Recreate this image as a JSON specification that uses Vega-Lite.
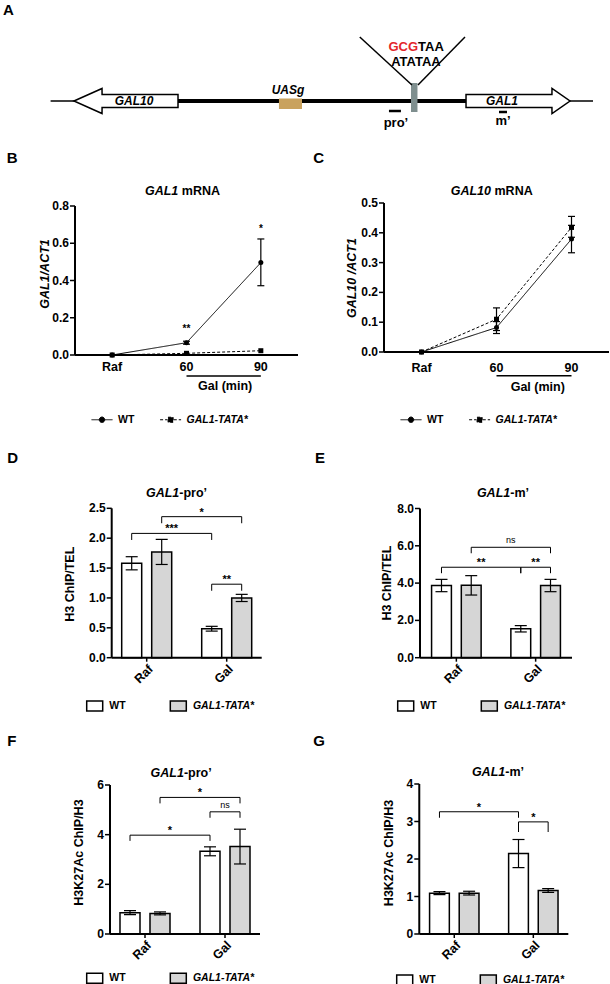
{
  "$schema": "https://vega.github.io/schema/vega-lite/v6.json",
  "width": 610, "height": 984,
  "autosize": {"type": "none"},
  "padding": 0,
  "config": {
    "font": "Liberation Sans",
    "view": {"stroke": null},
    "legend": {"labelFontWeight": "bold", "labelFontSize": 10.5, "labelColor": "black", "labelLimit": 300, "padding": 0},
    "text": {"color": "black", "fontWeight": "bold"}
  },
  "resolve": {
    "scale": {"x": "independent", "y": "independent", "xOffset": "independent", "fill": "independent", "strokeDash": "independent"},
    "axis": {"x": "independent", "y": "independent"},
    "legend": {"fill": "independent", "strokeDash": "independent"}
  },
  "layer": [
    {
      "layer": [
        {"data": {"values": [{"x": 0, "x2": 1000, "y": 0}]}, "mark": {"type": "rule", "color": "black", "strokeWidth": 1.3}, "encoding": {"x": {"field": "x", "type": "quantitative", "scale": {"domain": [0, 1000], "range": [50.6, 593], "nice": false, "zero": false}, "axis": null}, "x2": {"field": "x2"}, "y": {"field": "y", "type": "quantitative", "scale": {"domain": [-39, 101], "range": [140, 0], "nice": false, "zero": false}, "axis": null}}},
        {"data": {"values": [{"x": 234.9, "x2": 765.9, "y": 0}]}, "mark": {"type": "rule", "color": "black", "strokeWidth": 4}, "encoding": {"x": {"field": "x", "type": "quantitative", "axis": null}, "x2": {"field": "x2"}, "y": {"field": "y", "type": "quantitative", "axis": null}}},
        {"data": {"values": [
          {"gene": "GAL10", "x": 43.1, "y": 0, "y2": 0},
          {"gene": "GAL10", "x": 94.8, "y": 12.5, "y2": -12.5},
          {"gene": "GAL10", "x": 94.9, "y": 6.5, "y2": -6.5},
          {"gene": "GAL10", "x": 234.9, "y": 6.5, "y2": -6.5},
          {"gene": "GAL1", "x": 765.9, "y": 6.5, "y2": -6.5},
          {"gene": "GAL1", "x": 924.3, "y": 6.5, "y2": -6.5},
          {"gene": "GAL1", "x": 924.4, "y": 12.5, "y2": -12.5},
          {"gene": "GAL1", "x": 957.6, "y": 0, "y2": 0}
        ]}, "mark": {"type": "area", "fill": "white", "stroke": "black", "strokeWidth": 1.5, "opacity": 1}, "encoding": {"x": {"field": "x", "type": "quantitative", "axis": null}, "y": {"field": "y", "type": "quantitative", "axis": null}, "y2": {"field": "y2"}, "detail": {"field": "gene", "type": "nominal"}}},
        {"data": {"values": [{"x": 421, "x2": 463.5, "y": 2.5, "y2": -8}]}, "mark": {"type": "rect", "fill": "#c9a25e"}, "encoding": {"x": {"field": "x", "type": "quantitative", "axis": null}, "x2": {"field": "x2"}, "y": {"field": "y", "type": "quantitative", "axis": null}, "y2": {"field": "y2"}}},
        {"data": {"values": [{"x": 664.5, "x2": 676.4, "y": 18, "y2": -11}]}, "mark": {"type": "rect", "fill": "#7f8f8f"}, "encoding": {"x": {"field": "x", "type": "quantitative", "axis": null}, "x2": {"field": "x2"}, "y": {"field": "y", "type": "quantitative", "axis": null}, "y2": {"field": "y2"}}},
        {"data": {"values": [{"x": 570, "y": 64, "x2": 666.2, "y2": 16}, {"x": 764, "y": 64, "x2": 677.3, "y2": 16}]}, "mark": {"type": "rule", "color": "black", "strokeWidth": 1.5}, "encoding": {"x": {"field": "x", "type": "quantitative", "axis": null}, "x2": {"field": "x2"}, "y": {"field": "y", "type": "quantitative", "axis": null}, "y2": {"field": "y2"}}},
        {"data": {"values": [{"x": 623.8, "x2": 645.9, "y": -10}, {"x": 826.7, "x2": 841.4, "y": -11}]}, "mark": {"type": "rule", "color": "black", "strokeWidth": 2.5}, "encoding": {"x": {"field": "x", "type": "quantitative", "axis": null}, "x2": {"field": "x2"}, "y": {"field": "y", "type": "quantitative", "axis": null}}},
        {"data": {"values": [{"x": 153.8, "y": 0.5, "t": "GAL10"}, {"x": 832.2, "y": 0.5, "t": "GAL1"}, {"x": 437.7, "y": 11, "t": "UASg"}]}, "mark": {"type": "text", "fontSize": 12, "fontStyle": "italic", "baseline": "middle", "align": "center"}, "encoding": {"x": {"field": "x", "type": "quantitative", "axis": null}, "y": {"field": "y", "type": "quantitative", "axis": null}, "text": {"field": "t"}}},
        {"data": {"values": [{"x": 636.7, "y": -21.5, "t": "pro’"}, {"x": 834, "y": -20, "t": "m’"}, {"x": 673.6, "y": 39, "t": "ATATAA"}]}, "mark": {"type": "text", "fontSize": 13, "baseline": "middle", "align": "center"}, "encoding": {"x": {"field": "x", "type": "quantitative", "axis": null}, "y": {"field": "y", "type": "quantitative", "axis": null}, "text": {"field": "t"}}},
        {"data": {"values": [{"x": 677.4, "y": 54, "t": "GCG"}]}, "mark": {"type": "text", "fontSize": 13, "baseline": "middle", "align": "right", "color": "#e3262b"}, "encoding": {"x": {"field": "x", "type": "quantitative", "axis": null}, "y": {"field": "y", "type": "quantitative", "axis": null}, "text": {"field": "t"}}},
        {"data": {"values": [{"x": 677.4, "y": 54, "t": "TAA"}]}, "mark": {"type": "text", "fontSize": 13, "baseline": "middle", "align": "left"}, "encoding": {"x": {"field": "x", "type": "quantitative", "axis": null}, "y": {"field": "y", "type": "quantitative", "axis": null}, "text": {"field": "t"}}},
        {"data": {"values": [{"x": -87.7, "y": 86, "t": "A"}]}, "mark": {"type": "text", "fontSize": 15, "baseline": "alphabetic", "align": "left"}, "encoding": {"x": {"field": "x", "type": "quantitative", "axis": null}, "y": {"field": "y", "type": "quantitative", "axis": null}, "text": {"field": "t"}}}
      ]
    },
    {
      "data": {"values": [
        {"t": "Raf", "g": "WT", "m": 0},
        {"t": "60", "g": "WT", "m": 0.066, "lo": 0.058, "hi": 0.074},
        {"t": "90", "g": "WT", "m": 0.496, "lo": 0.372, "hi": 0.623},
        {"t": "Raf", "g": "GAL1-TATA*", "m": 0},
        {"t": "60", "g": "GAL1-TATA*", "m": 0.009},
        {"t": "90", "g": "GAL1-TATA*", "m": 0.023}
      ]},
      "layer": [
        {"mark": {"type": "line", "color": "black", "strokeWidth": 1}, "encoding": {
          "x": {"field": "t", "type": "ordinal", "scale": {"type": "band", "domain": ["Raf", "60", "90"], "range": [75, 298], "paddingInner": 0, "paddingOuter": 0}, "axis": null},
          "y": {"field": "m", "type": "quantitative", "scale": {"domain": [0, 0.8], "range": [355, 206], "nice": false, "zero": false}, "axis": null},
          "strokeDash": {"field": "g", "type": "nominal", "scale": {"domain": ["WT", "GAL1-TATA*"], "range": [[1, 0], [3, 2]]}, "legend": {"orient": "none", "legendX": 91, "legendY": 408.5, "direction": "horizontal", "title": null, "symbolType": {"expr": "datum.label === 'WT' ? 'M-1,0H1M-0.26,0A0.26,0.26,0,1,1,0.26,0A0.26,0.26,0,1,1,-0.26,0Z' : 'M-1,0H-0.3M0.3,0H1M-0.24,-0.24H0.24V0.24H-0.24Z'"}, "symbolSize": 441, "symbolStrokeWidth": 1, "symbolFillColor": "black", "symbolStrokeColor": "black", "labelFontStyle": {"expr": "datum.label === 'WT' ? 'normal' : 'italic'"}, "labelOffset": 5, "columnPadding": 22.6}},
          "order": {"value": null}}},
        {"mark": {"type": "rule", "color": "black", "strokeWidth": 1.2}, "encoding": {"x": {"field": "t", "type": "ordinal", "axis": null}, "y": {"field": "lo", "type": "quantitative", "axis": null}, "y2": {"field": "hi"}}},
        {"transform": [{"fold": ["lo", "hi"], "as": ["k", "v"]}], "mark": {"type": "tick", "color": "black", "size": 7, "thickness": 1.2, "opacity": 1}, "encoding": {"x": {"field": "t", "type": "ordinal", "axis": null}, "y": {"field": "v", "type": "quantitative", "axis": null}}},
        {"transform": [{"filter": "datum.g === 'WT'"}], "mark": {"type": "point", "shape": "circle", "filled": true, "color": "black", "size": 25, "opacity": 1}, "encoding": {"x": {"field": "t", "type": "ordinal", "axis": null}, "y": {"field": "m", "type": "quantitative", "axis": null}}},
        {"transform": [{"filter": "datum.g !== 'WT'"}], "mark": {"type": "point", "shape": "square", "filled": true, "color": "black", "size": 25, "opacity": 1}, "encoding": {"x": {"field": "t", "type": "ordinal", "axis": null}, "y": {"field": "m", "type": "quantitative", "axis": null}}},
        {"data": {"values": [{"t": "60", "y": 0.14, "s": "**"}, {"t": "90", "y": 0.677, "s": "*"}]}, "mark": {"type": "text", "fontSize": 10, "baseline": "middle"}, "encoding": {"x": {"field": "t", "type": "ordinal", "axis": null}, "y": {"field": "y", "type": "quantitative", "axis": null}, "text": {"field": "s"}}},
        {"data": {"values": [{"t": "60", "t2": "90"}]}, "mark": {"type": "rule", "color": "black", "strokeWidth": 1.5}, "encoding": {"x": {"field": "t", "type": "ordinal", "axis": null}, "x2": {"field": "t2"}, "y": {"datum": -0.113, "type": "quantitative", "axis": null}}},
        {"data": {"values": [{}]}, "mark": {"type": "text", "fontSize": 12.5, "fontStyle": "italic", "align": "right", "baseline": "alphabetic", "dx": -8.2, "dy": -11.5}, "encoding": {"x": {"datum": "60", "type": "ordinal", "axis": null}, "y": {"datum": 0.8, "type": "quantitative", "axis": null}, "text": {"value": "GAL1"}}},
        {"data": {"values": [{}]}, "mark": {"type": "text", "fontSize": 12.5, "align": "left", "baseline": "alphabetic", "dx": -4.7, "dy": -11.5}, "encoding": {"x": {"datum": "60", "type": "ordinal", "axis": null}, "y": {"datum": 0.8, "type": "quantitative", "axis": null}, "text": {"value": "mRNA"}}},
        {"data": {"values": [{}]}, "mark": {"type": "text", "fontSize": 15, "align": "left", "baseline": "alphabetic", "dx": -105.5, "dy": -42.7}, "encoding": {"x": {"datum": "Raf", "type": "ordinal", "axis": null}, "y": {"datum": 0.8, "type": "quantitative", "axis": null}, "text": {"value": "B"}}},
        {"data": {"values": [{"t": "Raf"}]}, "mark": {"type": "point", "shape": "M0,-1V1", "size": 22201, "filled": false, "color": "black", "strokeWidth": 2, "opacity": 1}, "encoding": {"x": {"field": "t", "type": "ordinal", "bandPosition": 0, "axis": null}, "y": {"datum": 0.4, "type": "quantitative", "axis": null}}},
        {"data": {"values": [{"t": "60"}]}, "mark": {"type": "point", "shape": "M-1,0H1", "size": 49729, "filled": false, "color": "black", "strokeWidth": 2, "opacity": 1}, "encoding": {"x": {"field": "t", "type": "ordinal", "axis": null}, "y": {"datum": 0, "type": "quantitative", "axis": null}}},
        {"data": {"values": [{"t": "Raf", "v": 0}, {"t": "Raf", "v": 0.2}, {"t": "Raf", "v": 0.4}, {"t": "Raf", "v": 0.6}, {"t": "Raf", "v": 0.8}]}, "layer": [
          {"mark": {"type": "point", "shape": "M-1,0H1", "size": 25, "filled": false, "color": "black", "strokeWidth": 1.5, "opacity": 1}, "encoding": {"x": {"field": "t", "type": "ordinal", "bandPosition": -0.0336, "axis": null}, "y": {"field": "v", "type": "quantitative", "axis": null}}},
          {"mark": {"type": "text", "fontSize": 12, "align": "right", "baseline": "middle"}, "encoding": {"x": {"field": "t", "type": "ordinal", "bandPosition": -0.0807, "axis": null}, "y": {"field": "v", "type": "quantitative", "axis": null}, "text": {"field": "v", "type": "quantitative", "format": ".1f"}}}
        ]},
        {"data": {"values": [{"t": "Raf"}]}, "mark": {"type": "text", "fontSize": 12.5, "fontStyle": "italic", "angle": 270, "align": "center", "baseline": "middle"}, "encoding": {"x": {"field": "t", "type": "ordinal", "bandPosition": -0.4036, "axis": null}, "y": {"datum": 0.435, "type": "quantitative", "axis": null}, "text": {"value": "GAL1/ACT1"}}},
        {"data": {"values": [{"t": "Raf"}, {"t": "60"}, {"t": "90"}]}, "mark": {"type": "text", "fontSize": 12.5, "baseline": "middle", "align": "center", "dy": 12}, "encoding": {"x": {"field": "t", "type": "ordinal", "axis": null}, "y": {"datum": 0, "type": "quantitative", "axis": null}, "text": {"field": "t"}}},
        {"data": {"values": [{"t": "90"}]}, "mark": {"type": "text", "fontSize": 12.5, "baseline": "middle", "align": "center", "dy": 31}, "encoding": {"x": {"field": "t", "type": "ordinal", "bandPosition": 0.02, "axis": null}, "y": {"datum": 0, "type": "quantitative", "axis": null}, "text": {"value": "Gal (min)"}}}
      ]
    },
    {
      "data": {"values": [
        {"t": "Raf", "g": "WT", "m": 0},
        {"t": "60", "g": "WT", "m": 0.082, "lo": 0.062, "hi": 0.102},
        {"t": "90", "g": "WT", "m": 0.379, "lo": 0.333, "hi": 0.425},
        {"t": "Raf", "g": "GAL1-TATA*", "m": 0},
        {"t": "60", "g": "GAL1-TATA*", "m": 0.11, "lo": 0.072, "hi": 0.148},
        {"t": "90", "g": "GAL1-TATA*", "m": 0.418, "lo": 0.385, "hi": 0.455}
      ]},
      "layer": [
        {"mark": {"type": "line", "color": "black", "strokeWidth": 1}, "encoding": {
          "x": {"field": "t", "type": "ordinal", "scale": {"type": "band", "domain": ["Raf", "60", "90"], "range": [384, 609], "paddingInner": 0, "paddingOuter": 0}, "axis": null},
          "y": {"field": "m", "type": "quantitative", "scale": {"domain": [0, 0.5], "range": [352, 203], "nice": false, "zero": false}, "axis": null},
          "strokeDash": {"field": "g", "type": "nominal", "scale": {"domain": ["WT", "GAL1-TATA*"], "range": [[1, 0], [3, 2]]}, "legend": {"orient": "none", "legendX": 400, "legendY": 408.5, "direction": "horizontal", "title": null, "symbolType": {"expr": "datum.label === 'WT' ? 'M-1,0H1M-0.26,0A0.26,0.26,0,1,1,0.26,0A0.26,0.26,0,1,1,-0.26,0Z' : 'M-1,0H-0.3M0.3,0H1M-0.24,-0.24H0.24V0.24H-0.24Z'"}, "symbolSize": 441, "symbolStrokeWidth": 1, "symbolFillColor": "black", "symbolStrokeColor": "black", "labelFontStyle": {"expr": "datum.label === 'WT' ? 'normal' : 'italic'"}, "labelOffset": 5, "columnPadding": 22.6}},
          "order": {"value": null}}},
        {"mark": {"type": "rule", "color": "black", "strokeWidth": 1.2}, "encoding": {"x": {"field": "t", "type": "ordinal", "axis": null}, "y": {"field": "lo", "type": "quantitative", "axis": null}, "y2": {"field": "hi"}}},
        {"transform": [{"fold": ["lo", "hi"], "as": ["k", "v"]}], "mark": {"type": "tick", "color": "black", "size": 7, "thickness": 1.2, "opacity": 1}, "encoding": {"x": {"field": "t", "type": "ordinal", "axis": null}, "y": {"field": "v", "type": "quantitative", "axis": null}}},
        {"transform": [{"filter": "datum.g === 'WT'"}], "mark": {"type": "point", "shape": "circle", "filled": true, "color": "black", "size": 25, "opacity": 1}, "encoding": {"x": {"field": "t", "type": "ordinal", "axis": null}, "y": {"field": "m", "type": "quantitative", "axis": null}}},
        {"transform": [{"filter": "datum.g !== 'WT'"}], "mark": {"type": "point", "shape": "square", "filled": true, "color": "black", "size": 25, "opacity": 1}, "encoding": {"x": {"field": "t", "type": "ordinal", "axis": null}, "y": {"field": "m", "type": "quantitative", "axis": null}}},
        {"data": {"values": [{"t": "60", "t2": "90"}]}, "mark": {"type": "rule", "color": "black", "strokeWidth": 1.5}, "encoding": {"x": {"field": "t", "type": "ordinal", "axis": null}, "x2": {"field": "t2"}, "y": {"datum": -0.08, "type": "quantitative", "axis": null}}},
        {"data": {"values": [{}]}, "mark": {"type": "text", "fontSize": 12.5, "fontStyle": "italic", "align": "right", "baseline": "alphabetic", "dx": -5.5, "dy": -8.5}, "encoding": {"x": {"datum": "60", "type": "ordinal", "axis": null}, "y": {"datum": 0.5, "type": "quantitative", "axis": null}, "text": {"value": "GAL10"}}},
        {"data": {"values": [{}]}, "mark": {"type": "text", "fontSize": 12.5, "align": "left", "baseline": "alphabetic", "dx": -2, "dy": -8.5}, "encoding": {"x": {"datum": "60", "type": "ordinal", "axis": null}, "y": {"datum": 0.5, "type": "quantitative", "axis": null}, "text": {"value": "mRNA"}}},
        {"data": {"values": [{}]}, "mark": {"type": "text", "fontSize": 15, "align": "left", "baseline": "alphabetic", "dx": -108.2, "dy": -40}, "encoding": {"x": {"datum": "Raf", "type": "ordinal", "axis": null}, "y": {"datum": 0.5, "type": "quantitative", "axis": null}, "text": {"value": "C"}}},
        {"data": {"values": [{"t": "Raf"}]}, "mark": {"type": "point", "shape": "M0,-1V1", "size": 22201, "filled": false, "color": "black", "strokeWidth": 2, "opacity": 1}, "encoding": {"x": {"field": "t", "type": "ordinal", "bandPosition": 0, "axis": null}, "y": {"datum": 0.25, "type": "quantitative", "axis": null}}},
        {"data": {"values": [{"t": "60"}]}, "mark": {"type": "point", "shape": "M-1,0H1", "size": 50625, "filled": false, "color": "black", "strokeWidth": 2, "opacity": 1}, "encoding": {"x": {"field": "t", "type": "ordinal", "axis": null}, "y": {"datum": 0, "type": "quantitative", "axis": null}}},
        {"data": {"values": [{"t": "Raf", "v": 0}, {"t": "Raf", "v": 0.1}, {"t": "Raf", "v": 0.2}, {"t": "Raf", "v": 0.3}, {"t": "Raf", "v": 0.4}, {"t": "Raf", "v": 0.5}]}, "layer": [
          {"mark": {"type": "point", "shape": "M-1,0H1", "size": 25, "filled": false, "color": "black", "strokeWidth": 1.5, "opacity": 1}, "encoding": {"x": {"field": "t", "type": "ordinal", "bandPosition": -0.0333, "axis": null}, "y": {"field": "v", "type": "quantitative", "axis": null}}},
          {"mark": {"type": "text", "fontSize": 12, "align": "right", "baseline": "middle"}, "encoding": {"x": {"field": "t", "type": "ordinal", "bandPosition": -0.08, "axis": null}, "y": {"field": "v", "type": "quantitative", "axis": null}, "text": {"field": "v", "type": "quantitative", "format": ".1f"}}}
        ]},
        {"data": {"values": [{"t": "Raf"}]}, "mark": {"type": "text", "fontSize": 12.5, "fontStyle": "italic", "angle": 270, "align": "center", "baseline": "middle"}, "encoding": {"x": {"field": "t", "type": "ordinal", "bandPosition": -0.431, "axis": null}, "y": {"datum": 0.248, "type": "quantitative", "axis": null}, "text": {"value": "GAL10 /ACT1"}}},
        {"data": {"values": [{"t": "Raf"}, {"t": "60"}, {"t": "90"}]}, "mark": {"type": "text", "fontSize": 12.5, "baseline": "middle", "align": "center", "dy": 16}, "encoding": {"x": {"field": "t", "type": "ordinal", "axis": null}, "y": {"datum": 0, "type": "quantitative", "axis": null}, "text": {"field": "t"}}},
        {"data": {"values": [{"t": "90"}]}, "mark": {"type": "text", "fontSize": 12.5, "baseline": "middle", "align": "center", "dy": 34.7}, "encoding": {"x": {"field": "t", "type": "ordinal", "bandPosition": 0.05, "axis": null}, "y": {"datum": 0, "type": "quantitative", "axis": null}, "text": {"value": "Gal (min)"}}}
      ]
    },
    {
      "data": {"values": [
        {"c": "Raf", "g": "WT", "m": 1.58, "lo": 1.47, "hi": 1.69},
        {"c": "Raf", "g": "GAL1-TATA*", "m": 1.77, "lo": 1.56, "hi": 1.98},
        {"c": "Gal", "g": "WT", "m": 0.485, "lo": 0.445, "hi": 0.525},
        {"c": "Gal", "g": "GAL1-TATA*", "m": 1.0, "lo": 0.94, "hi": 1.06}
      ]},
      "layer": [
        {"mark": {"type": "bar", "stroke": "black", "strokeWidth": 1.5}, "encoding": {
          "x": {"field": "c", "type": "nominal", "scale": {"domain": ["Raf", "Gal"], "range": [111.7, 261.7], "paddingInner": 0.375, "paddingOuter": 0.125}, "axis": null},
          "xOffset": {"field": "g", "type": "nominal", "scale": {"domain": ["WT", "GAL1-TATA*"], "paddingInner": 0.3333, "paddingOuter": 0}},
          "y": {"field": "m", "type": "quantitative", "scale": {"domain": [0, 2.5], "range": [657.7, 508.3], "nice": false, "zero": false}, "axis": null},
          "fill": {"field": "g", "type": "nominal", "scale": {"domain": ["WT", "GAL1-TATA*"], "range": ["white", "#d6d6d6"]}, "legend": {"orient": "none", "legendX": 85.7, "legendY": 697, "direction": "horizontal", "title": null, "symbolType": "M-1,-0.625H1V0.625H-1Z", "symbolSize": 256, "symbolStrokeColor": "black", "symbolStrokeWidth": 1.5, "labelFontStyle": {"expr": "datum.label === 'WT' ? 'normal' : 'italic'"}, "labelOffset": 5.6, "columnPadding": 41.6}}}},
        {"mark": {"type": "rule", "color": "black", "strokeWidth": 1.2}, "encoding": {"x": {"field": "c", "type": "nominal", "axis": null}, "xOffset": {"field": "g", "type": "nominal"}, "y": {"field": "lo", "type": "quantitative", "axis": null}, "y2": {"field": "hi"}}},
        {"transform": [{"fold": ["lo", "hi"], "as": ["k", "v"]}], "mark": {"type": "tick", "color": "black", "size": 12, "thickness": 1.2, "opacity": 1}, "encoding": {"x": {"field": "c", "type": "nominal", "axis": null}, "xOffset": {"field": "g", "type": "nominal"}, "y": {"field": "v", "type": "quantitative", "axis": null}}},
        {"data": {"values": [
          {"b": 1, "o": 1, "c": "Raf", "g": "WT", "y": 1.97}, {"b": 1, "o": 2, "c": "Raf", "g": "WT", "y": 2.08}, {"b": 1, "o": 3, "c": "Gal", "g": "WT", "y": 2.08}, {"b": 1, "o": 4, "c": "Gal", "g": "WT", "y": 1.97},
          {"b": 2, "o": 1, "c": "Raf", "g": "GAL1-TATA*", "y": 2.25}, {"b": 2, "o": 2, "c": "Raf", "g": "GAL1-TATA*", "y": 2.36}, {"b": 2, "o": 3, "c": "Gal", "g": "GAL1-TATA*", "y": 2.36}, {"b": 2, "o": 4, "c": "Gal", "g": "GAL1-TATA*", "y": 2.25},
          {"b": 3, "o": 1, "c": "Gal", "g": "WT", "y": 1.12}, {"b": 3, "o": 2, "c": "Gal", "g": "WT", "y": 1.23}, {"b": 3, "o": 3, "c": "Gal", "g": "GAL1-TATA*", "y": 1.23}, {"b": 3, "o": 4, "c": "Gal", "g": "GAL1-TATA*", "y": 1.12}
        ]}, "mark": {"type": "line", "color": "black", "strokeWidth": 1}, "encoding": {"x": {"field": "c", "type": "nominal", "axis": null}, "xOffset": {"field": "g", "type": "nominal"}, "y": {"field": "y", "type": "quantitative", "axis": null}, "order": {"field": "o", "type": "quantitative"}, "detail": {"field": "b", "type": "nominal"}}},
        {"data": {"values": [{"c": "Raf", "y": 2.08, "s": "***"}]}, "mark": {"type": "text", "fontSize": 11, "baseline": "alphabetic", "align": "center", "dy": -1}, "encoding": {"x": {"field": "c", "type": "nominal", "bandPosition": 1, "axis": null}, "y": {"field": "y", "type": "quantitative", "axis": null}, "text": {"field": "s"}}},
        {"data": {"values": [{"c": "Gal", "y": 2.36, "s": "*"}]}, "mark": {"type": "text", "fontSize": 11, "baseline": "alphabetic", "align": "center", "dy": -1}, "encoding": {"x": {"field": "c", "type": "nominal", "bandPosition": 0, "axis": null}, "y": {"field": "y", "type": "quantitative", "axis": null}, "text": {"field": "s"}}},
        {"data": {"values": [{"c": "Gal", "y": 1.23, "s": "**"}]}, "mark": {"type": "text", "fontSize": 11, "baseline": "alphabetic", "align": "center", "dy": -1}, "encoding": {"x": {"field": "c", "type": "nominal", "bandPosition": 0.5, "axis": null}, "y": {"field": "y", "type": "quantitative", "axis": null}, "text": {"field": "s"}}},
        {"data": {"values": [{}]}, "mark": {"type": "text", "fontSize": 12.5, "fontStyle": "italic", "align": "right", "baseline": "alphabetic", "dx": -47.4, "dy": -11}, "encoding": {"x": {"datum": "Gal", "type": "nominal", "axis": null}, "y": {"datum": 2.5, "type": "quantitative", "axis": null}, "text": {"value": "GAL1"}}},
        {"data": {"values": [{}]}, "mark": {"type": "text", "fontSize": 12.5, "align": "left", "baseline": "alphabetic", "dx": -47.4, "dy": -11}, "encoding": {"x": {"datum": "Gal", "type": "nominal", "axis": null}, "y": {"datum": 2.5, "type": "quantitative", "axis": null}, "text": {"value": "-pro’"}}},
        {"data": {"values": [{}]}, "mark": {"type": "text", "fontSize": 15, "align": "left", "baseline": "alphabetic", "dx": -139.4, "dy": -45}, "encoding": {"x": {"datum": "Raf", "type": "nominal", "axis": null}, "y": {"datum": 2.5, "type": "quantitative", "axis": null}, "text": {"value": "D"}}},
        {"data": {"values": [{"c": "Raf"}]}, "mark": {"type": "point", "shape": "M0,-1V1", "size": 22320, "filled": false, "color": "black", "strokeWidth": 2, "opacity": 1}, "encoding": {"x": {"field": "c", "type": "nominal", "bandPosition": -0.2, "axis": null}, "y": {"datum": 1.25, "type": "quantitative", "axis": null}}},
        {"data": {"values": [{"c": "Raf"}]}, "mark": {"type": "point", "shape": "M-1,0H1", "size": 22500, "filled": false, "color": "black", "strokeWidth": 2, "opacity": 1}, "encoding": {"x": {"field": "c", "type": "nominal", "bandPosition": 1.3, "axis": null}, "y": {"datum": 0, "type": "quantitative", "axis": null}}},
        {"data": {"values": [{"c": "Raf"}, {"c": "Gal"}]}, "layer": [
          {"mark": {"type": "rule", "color": "black", "strokeWidth": 1.5}, "encoding": {"x": {"field": "c", "type": "nominal", "axis": null}, "y": {"datum": 0, "type": "quantitative", "axis": null}, "y2": {"datum": -0.067}}},
          {"mark": {"type": "text", "fontSize": 12.5, "angle": 315, "align": "right", "baseline": "top"}, "encoding": {"x": {"field": "c", "type": "nominal", "axis": null}, "y": {"datum": -0.084, "type": "quantitative", "axis": null}, "text": {"field": "c"}}}
        ]},
        {"data": {"values": [{"c": "Raf", "v": 0}, {"c": "Raf", "v": 0.5}, {"c": "Raf", "v": 1}, {"c": "Raf", "v": 1.5}, {"c": "Raf", "v": 2}, {"c": "Raf", "v": 2.5}]}, "layer": [
          {"mark": {"type": "point", "shape": "M-1,0H1", "size": 25, "filled": false, "color": "black", "strokeWidth": 1.5, "opacity": 1}, "encoding": {"x": {"field": "c", "type": "nominal", "bandPosition": -0.25, "axis": null}, "y": {"field": "v", "type": "quantitative", "axis": null}}},
          {"mark": {"type": "text", "fontSize": 12, "align": "right", "baseline": "middle"}, "encoding": {"x": {"field": "c", "type": "nominal", "bandPosition": -0.32, "axis": null}, "y": {"field": "v", "type": "quantitative", "axis": null}, "text": {"field": "v", "type": "quantitative", "format": ".1f"}}}
        ]},
        {"data": {"values": [{"c": "Raf"}]}, "mark": {"type": "text", "fontSize": 12.5, "angle": 270, "align": "center", "baseline": "middle"}, "encoding": {"x": {"field": "c", "type": "nominal", "bandPosition": -1.034, "axis": null}, "y": {"datum": 1.23, "type": "quantitative", "axis": null}, "text": {"value": "H3 ChIP/TEL"}}}
      ]
    },
    {
      "data": {"values": [
        {"c": "Raf", "g": "WT", "m": 3.87, "lo": 3.54, "hi": 4.2},
        {"c": "Raf", "g": "GAL1-TATA*", "m": 3.88, "lo": 3.36, "hi": 4.4},
        {"c": "Gal", "g": "WT", "m": 1.55, "lo": 1.38, "hi": 1.72},
        {"c": "Gal", "g": "GAL1-TATA*", "m": 3.87, "lo": 3.54, "hi": 4.2}
      ]},
      "layer": [
        {"mark": {"type": "bar", "stroke": "black", "strokeWidth": 1.5}, "encoding": {
          "x": {"field": "c", "type": "nominal", "scale": {"domain": ["Raf", "Gal"], "range": [420, 572], "paddingInner": 0.375, "paddingOuter": 0.146}, "axis": null},
          "xOffset": {"field": "g", "type": "nominal", "scale": {"domain": ["WT", "GAL1-TATA*"], "paddingInner": 0.3333, "paddingOuter": 0}},
          "y": {"field": "m", "type": "quantitative", "scale": {"domain": [0, 8], "range": [657.7, 508.5], "nice": false, "zero": false}, "axis": null},
          "fill": {"field": "g", "type": "nominal", "scale": {"domain": ["WT", "GAL1-TATA*"], "range": ["white", "#d6d6d6"]}, "legend": {"orient": "none", "legendX": 396.7, "legendY": 697, "direction": "horizontal", "title": null, "symbolType": "M-1,-0.625H1V0.625H-1Z", "symbolSize": 256, "symbolStrokeColor": "black", "symbolStrokeWidth": 1.5, "labelFontStyle": {"expr": "datum.label === 'WT' ? 'normal' : 'italic'"}, "labelOffset": 5.6, "columnPadding": 41.6}}}},
        {"mark": {"type": "rule", "color": "black", "strokeWidth": 1.2}, "encoding": {"x": {"field": "c", "type": "nominal", "axis": null}, "xOffset": {"field": "g", "type": "nominal"}, "y": {"field": "lo", "type": "quantitative", "axis": null}, "y2": {"field": "hi"}}},
        {"transform": [{"fold": ["lo", "hi"], "as": ["k", "v"]}], "mark": {"type": "tick", "color": "black", "size": 12, "thickness": 1.2, "opacity": 1}, "encoding": {"x": {"field": "c", "type": "nominal", "axis": null}, "xOffset": {"field": "g", "type": "nominal"}, "y": {"field": "v", "type": "quantitative", "axis": null}}},
        {"data": {"values": [
          {"b": 1, "o": 1, "c": "Raf", "g": "WT", "y": 4.53}, {"b": 1, "o": 2, "c": "Raf", "g": "WT", "y": 4.85}, {"b": 1, "o": 3, "c": "Gal", "g": "WT", "y": 4.85}, {"b": 1, "o": 4, "c": "Gal", "g": "WT", "y": 4.53},
          {"b": 2, "o": 1, "c": "Gal", "g": "WT", "y": 4.53}, {"b": 2, "o": 2, "c": "Gal", "g": "WT", "y": 4.85}, {"b": 2, "o": 3, "c": "Gal", "g": "GAL1-TATA*", "y": 4.85}, {"b": 2, "o": 4, "c": "Gal", "g": "GAL1-TATA*", "y": 4.53},
          {"b": 3, "o": 1, "c": "Raf", "g": "GAL1-TATA*", "y": 5.6}, {"b": 3, "o": 2, "c": "Raf", "g": "GAL1-TATA*", "y": 5.92}, {"b": 3, "o": 3, "c": "Gal", "g": "GAL1-TATA*", "y": 5.92}, {"b": 3, "o": 4, "c": "Gal", "g": "GAL1-TATA*", "y": 5.6}
        ]}, "mark": {"type": "line", "color": "black", "strokeWidth": 1}, "encoding": {"x": {"field": "c", "type": "nominal", "axis": null}, "xOffset": {"field": "g", "type": "nominal"}, "y": {"field": "y", "type": "quantitative", "axis": null}, "order": {"field": "o", "type": "quantitative"}, "detail": {"field": "b", "type": "nominal"}}},
        {"data": {"values": [{"c": "Raf", "y": 4.85, "s": "**"}]}, "mark": {"type": "text", "fontSize": 11, "baseline": "alphabetic", "align": "center", "dy": -1}, "encoding": {"x": {"field": "c", "type": "nominal", "bandPosition": 1, "axis": null}, "y": {"field": "y", "type": "quantitative", "axis": null}, "text": {"field": "s"}}},
        {"data": {"values": [{"c": "Gal", "y": 5.92, "s": "ns"}]}, "mark": {"type": "text", "fontSize": 9, "fontWeight": "normal", "baseline": "alphabetic", "align": "center", "dy": -4}, "encoding": {"x": {"field": "c", "type": "nominal", "bandPosition": 0, "axis": null}, "y": {"field": "y", "type": "quantitative", "axis": null}, "text": {"field": "s"}}},
        {"data": {"values": [{"c": "Gal", "y": 4.85, "s": "**"}]}, "mark": {"type": "text", "fontSize": 11, "baseline": "alphabetic", "align": "center", "dy": -1}, "encoding": {"x": {"field": "c", "type": "nominal", "bandPosition": 0.5, "axis": null}, "y": {"field": "y", "type": "quantitative", "axis": null}, "text": {"field": "s"}}},
        {"data": {"values": [{}]}, "mark": {"type": "text", "fontSize": 12.5, "fontStyle": "italic", "align": "right", "baseline": "alphabetic", "dx": -25.4, "dy": -11.5}, "encoding": {"x": {"datum": "Gal", "type": "nominal", "axis": null}, "y": {"datum": 8, "type": "quantitative", "axis": null}, "text": {"value": "GAL1"}}},
        {"data": {"values": [{}]}, "mark": {"type": "text", "fontSize": 12.5, "align": "left", "baseline": "alphabetic", "dx": -25.4, "dy": -11.5}, "encoding": {"x": {"datum": "Gal", "type": "nominal", "axis": null}, "y": {"datum": 8, "type": "quantitative", "axis": null}, "text": {"value": "-m’"}}},
        {"data": {"values": [{}]}, "mark": {"type": "text", "fontSize": 15, "align": "left", "baseline": "alphabetic", "dx": -141.4, "dy": -45.2}, "encoding": {"x": {"datum": "Raf", "type": "nominal", "axis": null}, "y": {"datum": 8, "type": "quantitative", "axis": null}, "text": {"value": "E"}}},
        {"data": {"values": [{"c": "Raf"}]}, "mark": {"type": "point", "shape": "M0,-1V1", "size": 22260, "filled": false, "color": "black", "strokeWidth": 2, "opacity": 1}, "encoding": {"x": {"field": "c", "type": "nominal", "bandPosition": -0.2337, "axis": null}, "y": {"datum": 4, "type": "quantitative", "axis": null}}},
        {"data": {"values": [{"c": "Raf"}]}, "mark": {"type": "point", "shape": "M-1,0H1", "size": 23104, "filled": false, "color": "black", "strokeWidth": 2, "opacity": 1}, "encoding": {"x": {"field": "c", "type": "nominal", "bandPosition": 1.3, "axis": null}, "y": {"datum": 0, "type": "quantitative", "axis": null}}},
        {"data": {"values": [{"c": "Raf"}, {"c": "Gal"}]}, "layer": [
          {"mark": {"type": "rule", "color": "black", "strokeWidth": 1.5}, "encoding": {"x": {"field": "c", "type": "nominal", "axis": null}, "y": {"datum": 0, "type": "quantitative", "axis": null}, "y2": {"datum": -0.214}}},
          {"mark": {"type": "text", "fontSize": 12.5, "angle": 315, "align": "right", "baseline": "top"}, "encoding": {"x": {"field": "c", "type": "nominal", "axis": null}, "y": {"datum": -0.27, "type": "quantitative", "axis": null}, "text": {"field": "c"}}}
        ]},
        {"data": {"values": [{"c": "Raf", "v": 0}, {"c": "Raf", "v": 2}, {"c": "Raf", "v": 4}, {"c": "Raf", "v": 6}, {"c": "Raf", "v": 8}]}, "layer": [
          {"mark": {"type": "point", "shape": "M-1,0H1", "size": 25, "filled": false, "color": "black", "strokeWidth": 1.5, "opacity": 1}, "encoding": {"x": {"field": "c", "type": "nominal", "bandPosition": -0.284, "axis": null}, "y": {"field": "v", "type": "quantitative", "axis": null}}},
          {"mark": {"type": "text", "fontSize": 12, "align": "right", "baseline": "middle"}, "encoding": {"x": {"field": "c", "type": "nominal", "bandPosition": -0.355, "axis": null}, "y": {"field": "v", "type": "quantitative", "axis": null}, "text": {"field": "v", "type": "quantitative", "format": ".1f"}}}
        ]},
        {"data": {"values": [{"c": "Raf"}]}, "mark": {"type": "text", "fontSize": 12.5, "angle": 270, "align": "center", "baseline": "middle"}, "encoding": {"x": {"field": "c", "type": "nominal", "bandPosition": -0.893, "axis": null}, "y": {"datum": 4.0, "type": "quantitative", "axis": null}, "text": {"value": "H3 ChIP/TEL"}}}
      ]
    },
    {
      "data": {"values": [
        {"c": "Raf", "g": "WT", "m": 0.86, "lo": 0.78, "hi": 0.94},
        {"c": "Raf", "g": "GAL1-TATA*", "m": 0.83, "lo": 0.77, "hi": 0.89},
        {"c": "Gal", "g": "WT", "m": 3.33, "lo": 3.15, "hi": 3.51},
        {"c": "Gal", "g": "GAL1-TATA*", "m": 3.52, "lo": 2.82, "hi": 4.22}
      ]},
      "layer": [
        {"mark": {"type": "bar", "stroke": "black", "strokeWidth": 1.5}, "encoding": {
          "x": {"field": "c", "type": "nominal", "scale": {"domain": ["Raf", "Gal"], "range": [110, 260], "paddingInner": 0.375, "paddingOuter": 0.125}, "axis": null},
          "xOffset": {"field": "g", "type": "nominal", "scale": {"domain": ["WT", "GAL1-TATA*"], "paddingInner": 0.3333, "paddingOuter": 0}},
          "y": {"field": "m", "type": "quantitative", "scale": {"domain": [0, 6], "range": [934, 785], "nice": false, "zero": false}, "axis": null},
          "fill": {"field": "g", "type": "nominal", "scale": {"domain": ["WT", "GAL1-TATA*"], "range": ["white", "#d6d6d6"]}, "legend": {"orient": "none", "legendX": 85.7, "legendY": 969.3, "direction": "horizontal", "title": null, "symbolType": "M-1,-0.625H1V0.625H-1Z", "symbolSize": 256, "symbolStrokeColor": "black", "symbolStrokeWidth": 1.5, "labelFontStyle": {"expr": "datum.label === 'WT' ? 'normal' : 'italic'"}, "labelOffset": 5.6, "columnPadding": 41.6}}}},
        {"mark": {"type": "rule", "color": "black", "strokeWidth": 1.2}, "encoding": {"x": {"field": "c", "type": "nominal", "axis": null}, "xOffset": {"field": "g", "type": "nominal"}, "y": {"field": "lo", "type": "quantitative", "axis": null}, "y2": {"field": "hi"}}},
        {"transform": [{"fold": ["lo", "hi"], "as": ["k", "v"]}], "mark": {"type": "tick", "color": "black", "size": 12, "thickness": 1.2, "opacity": 1}, "encoding": {"x": {"field": "c", "type": "nominal", "axis": null}, "xOffset": {"field": "g", "type": "nominal"}, "y": {"field": "v", "type": "quantitative", "axis": null}}},
        {"data": {"values": [
          {"b": 1, "o": 1, "c": "Raf", "g": "WT", "y": 3.75}, {"b": 1, "o": 2, "c": "Raf", "g": "WT", "y": 3.98}, {"b": 1, "o": 3, "c": "Gal", "g": "WT", "y": 3.98}, {"b": 1, "o": 4, "c": "Gal", "g": "WT", "y": 3.75},
          {"b": 2, "o": 1, "c": "Gal", "g": "WT", "y": 4.68}, {"b": 2, "o": 2, "c": "Gal", "g": "WT", "y": 4.92}, {"b": 2, "o": 3, "c": "Gal", "g": "GAL1-TATA*", "y": 4.92}, {"b": 2, "o": 4, "c": "Gal", "g": "GAL1-TATA*", "y": 4.68},
          {"b": 3, "o": 1, "c": "Raf", "g": "GAL1-TATA*", "y": 5.26}, {"b": 3, "o": 2, "c": "Raf", "g": "GAL1-TATA*", "y": 5.5}, {"b": 3, "o": 3, "c": "Gal", "g": "GAL1-TATA*", "y": 5.5}, {"b": 3, "o": 4, "c": "Gal", "g": "GAL1-TATA*", "y": 5.26}
        ]}, "mark": {"type": "line", "color": "black", "strokeWidth": 1}, "encoding": {"x": {"field": "c", "type": "nominal", "axis": null}, "xOffset": {"field": "g", "type": "nominal"}, "y": {"field": "y", "type": "quantitative", "axis": null}, "order": {"field": "o", "type": "quantitative"}, "detail": {"field": "b", "type": "nominal"}}},
        {"data": {"values": [{"c": "Raf", "y": 3.98, "s": "*"}]}, "mark": {"type": "text", "fontSize": 11, "baseline": "alphabetic", "align": "center", "dy": -1}, "encoding": {"x": {"field": "c", "type": "nominal", "bandPosition": 1, "axis": null}, "y": {"field": "y", "type": "quantitative", "axis": null}, "text": {"field": "s"}}},
        {"data": {"values": [{"c": "Gal", "y": 5.5, "s": "*"}]}, "mark": {"type": "text", "fontSize": 11, "baseline": "alphabetic", "align": "center", "dy": -1}, "encoding": {"x": {"field": "c", "type": "nominal", "bandPosition": 0, "axis": null}, "y": {"field": "y", "type": "quantitative", "axis": null}, "text": {"field": "s"}}},
        {"data": {"values": [{"c": "Gal", "y": 4.92, "s": "ns"}]}, "mark": {"type": "text", "fontSize": 9, "fontWeight": "normal", "baseline": "alphabetic", "align": "center", "dy": -4}, "encoding": {"x": {"field": "c", "type": "nominal", "bandPosition": 0.5, "axis": null}, "y": {"field": "y", "type": "quantitative", "axis": null}, "text": {"field": "s"}}},
        {"data": {"values": [{}]}, "mark": {"type": "text", "fontSize": 12.5, "fontStyle": "italic", "align": "right", "baseline": "alphabetic", "dx": -41.1, "dy": -8.2}, "encoding": {"x": {"datum": "Gal", "type": "nominal", "axis": null}, "y": {"datum": 6, "type": "quantitative", "axis": null}, "text": {"value": "GAL1"}}},
        {"data": {"values": [{}]}, "mark": {"type": "text", "fontSize": 12.5, "align": "left", "baseline": "alphabetic", "dx": -41.1, "dy": -8.2}, "encoding": {"x": {"datum": "Gal", "type": "nominal", "axis": null}, "y": {"datum": 6, "type": "quantitative", "axis": null}, "text": {"value": "-pro’"}}},
        {"data": {"values": [{}]}, "mark": {"type": "text", "fontSize": 15, "align": "left", "baseline": "alphabetic", "dx": -137.7, "dy": -39}, "encoding": {"x": {"datum": "Raf", "type": "nominal", "axis": null}, "y": {"datum": 6, "type": "quantitative", "axis": null}, "text": {"value": "F"}}},
        {"data": {"values": [{"c": "Raf"}]}, "mark": {"type": "point", "shape": "M0,-1V1", "size": 22201, "filled": false, "color": "black", "strokeWidth": 2, "opacity": 1}, "encoding": {"x": {"field": "c", "type": "nominal", "bandPosition": -0.2, "axis": null}, "y": {"datum": 3, "type": "quantitative", "axis": null}}},
        {"data": {"values": [{"c": "Raf"}]}, "mark": {"type": "point", "shape": "M-1,0H1", "size": 22500, "filled": false, "color": "black", "strokeWidth": 2, "opacity": 1}, "encoding": {"x": {"field": "c", "type": "nominal", "bandPosition": 1.3, "axis": null}, "y": {"datum": 0, "type": "quantitative", "axis": null}}},
        {"data": {"values": [{"c": "Raf"}, {"c": "Gal"}]}, "layer": [
          {"mark": {"type": "rule", "color": "black", "strokeWidth": 1.5}, "encoding": {"x": {"field": "c", "type": "nominal", "axis": null}, "y": {"datum": 0, "type": "quantitative", "axis": null}, "y2": {"datum": -0.161}}},
          {"mark": {"type": "text", "fontSize": 12.5, "angle": 315, "align": "right", "baseline": "top"}, "encoding": {"x": {"field": "c", "type": "nominal", "axis": null}, "y": {"datum": -0.2, "type": "quantitative", "axis": null}, "text": {"field": "c"}}}
        ]},
        {"data": {"values": [{"c": "Raf", "v": 0}, {"c": "Raf", "v": 2}, {"c": "Raf", "v": 4}, {"c": "Raf", "v": 6}]}, "layer": [
          {"mark": {"type": "point", "shape": "M-1,0H1", "size": 25, "filled": false, "color": "black", "strokeWidth": 1.5, "opacity": 1}, "encoding": {"x": {"field": "c", "type": "nominal", "bandPosition": -0.25, "axis": null}, "y": {"field": "v", "type": "quantitative", "axis": null}}},
          {"mark": {"type": "text", "fontSize": 12, "align": "right", "baseline": "middle"}, "encoding": {"x": {"field": "c", "type": "nominal", "bandPosition": -0.32, "axis": null}, "y": {"field": "v", "type": "quantitative", "axis": null}, "text": {"field": "v", "type": "quantitative", "format": "d"}}}
        ]},
        {"data": {"values": [{"c": "Raf"}]}, "mark": {"type": "text", "fontSize": 12.5, "angle": 270, "align": "center", "baseline": "middle"}, "encoding": {"x": {"field": "c", "type": "nominal", "bandPosition": -0.814, "axis": null}, "y": {"datum": 3.28, "type": "quantitative", "axis": null}, "text": {"value": "H3K27Ac ChIP/H3"}}}
      ]
    },
    {
      "data": {"values": [
        {"c": "Raf", "g": "WT", "m": 1.09, "lo": 1.05, "hi": 1.13},
        {"c": "Raf", "g": "GAL1-TATA*", "m": 1.09, "lo": 1.04, "hi": 1.14},
        {"c": "Gal", "g": "WT", "m": 2.15, "lo": 1.77, "hi": 2.52},
        {"c": "Gal", "g": "GAL1-TATA*", "m": 1.16, "lo": 1.11, "hi": 1.21}
      ]},
      "layer": [
        {"mark": {"type": "bar", "stroke": "black", "strokeWidth": 1.5}, "encoding": {
          "x": {"field": "c", "type": "nominal", "scale": {"domain": ["Raf", "Gal"], "range": [419.3, 568.3], "paddingInner": 0.375, "paddingOuter": 0.13}, "axis": null},
          "xOffset": {"field": "g", "type": "nominal", "scale": {"domain": ["WT", "GAL1-TATA*"], "paddingInner": 0.3333, "paddingOuter": 0}},
          "y": {"field": "m", "type": "quantitative", "scale": {"domain": [0, 4], "range": [934, 784], "nice": false, "zero": false}, "axis": null},
          "fill": {"field": "g", "type": "nominal", "scale": {"domain": ["WT", "GAL1-TATA*"], "range": ["white", "#d6d6d6"]}, "legend": {"orient": "none", "legendX": 395.7, "legendY": 971, "direction": "horizontal", "title": null, "symbolType": "M-1,-0.625H1V0.625H-1Z", "symbolSize": 256, "symbolStrokeColor": "black", "symbolStrokeWidth": 1.5, "labelFontStyle": {"expr": "datum.label === 'WT' ? 'normal' : 'italic'"}, "labelOffset": 5.6, "columnPadding": 41.6}}}},
        {"mark": {"type": "rule", "color": "black", "strokeWidth": 1.2}, "encoding": {"x": {"field": "c", "type": "nominal", "axis": null}, "xOffset": {"field": "g", "type": "nominal"}, "y": {"field": "lo", "type": "quantitative", "axis": null}, "y2": {"field": "hi"}}},
        {"transform": [{"fold": ["lo", "hi"], "as": ["k", "v"]}], "mark": {"type": "tick", "color": "black", "size": 12, "thickness": 1.2, "opacity": 1}, "encoding": {"x": {"field": "c", "type": "nominal", "axis": null}, "xOffset": {"field": "g", "type": "nominal"}, "y": {"field": "v", "type": "quantitative", "axis": null}}},
        {"data": {"values": [
          {"b": 1, "o": 1, "c": "Raf", "g": "WT", "y": 3.1}, {"b": 1, "o": 2, "c": "Raf", "g": "WT", "y": 3.26}, {"b": 1, "o": 3, "c": "Gal", "g": "WT", "y": 3.26}, {"b": 1, "o": 4, "c": "Gal", "g": "WT", "y": 3.1},
          {"b": 2, "o": 1, "c": "Gal", "g": "WT", "y": 2.72}, {"b": 2, "o": 2, "c": "Gal", "g": "WT", "y": 2.99}, {"b": 2, "o": 3, "c": "Gal", "g": "GAL1-TATA*", "y": 2.99}, {"b": 2, "o": 4, "c": "Gal", "g": "GAL1-TATA*", "y": 2.72}
        ]}, "mark": {"type": "line", "color": "black", "strokeWidth": 1}, "encoding": {"x": {"field": "c", "type": "nominal", "axis": null}, "xOffset": {"field": "g", "type": "nominal"}, "y": {"field": "y", "type": "quantitative", "axis": null}, "order": {"field": "o", "type": "quantitative"}, "detail": {"field": "b", "type": "nominal"}}},
        {"data": {"values": [{"c": "Raf", "y": 3.26, "s": "*"}]}, "mark": {"type": "text", "fontSize": 11, "baseline": "alphabetic", "align": "center", "dy": -1}, "encoding": {"x": {"field": "c", "type": "nominal", "bandPosition": 1, "axis": null}, "y": {"field": "y", "type": "quantitative", "axis": null}, "text": {"field": "s"}}},
        {"data": {"values": [{"c": "Gal", "y": 2.99, "s": "*"}]}, "mark": {"type": "text", "fontSize": 11, "baseline": "alphabetic", "align": "center", "dy": -1}, "encoding": {"x": {"field": "c", "type": "nominal", "bandPosition": 0.5, "axis": null}, "y": {"field": "y", "type": "quantitative", "axis": null}, "text": {"field": "s"}}},
        {"data": {"values": [{}]}, "mark": {"type": "text", "fontSize": 12.5, "fontStyle": "italic", "align": "right", "baseline": "alphabetic", "dx": -28.1, "dy": -7.8}, "encoding": {"x": {"datum": "Gal", "type": "nominal", "axis": null}, "y": {"datum": 4, "type": "quantitative", "axis": null}, "text": {"value": "GAL1"}}},
        {"data": {"values": [{}]}, "mark": {"type": "text", "fontSize": 12.5, "align": "left", "baseline": "alphabetic", "dx": -28.1, "dy": -7.8}, "encoding": {"x": {"datum": "Gal", "type": "nominal", "axis": null}, "y": {"datum": 4, "type": "quantitative", "axis": null}, "text": {"value": "-m’"}}},
        {"data": {"values": [{}]}, "mark": {"type": "text", "fontSize": 15, "align": "left", "baseline": "alphabetic", "dx": -141, "dy": -38}, "encoding": {"x": {"datum": "Raf", "type": "nominal", "axis": null}, "y": {"datum": 4, "type": "quantitative", "axis": null}, "text": {"value": "G"}}},
        {"data": {"values": [{"c": "Raf"}]}, "mark": {"type": "point", "shape": "M0,-1V1", "size": 22500, "filled": false, "color": "black", "strokeWidth": 2, "opacity": 1}, "encoding": {"x": {"field": "c", "type": "nominal", "bandPosition": -0.2085, "axis": null}, "y": {"datum": 2, "type": "quantitative", "axis": null}}},
        {"data": {"values": [{"c": "Raf"}]}, "mark": {"type": "point", "shape": "M-1,0H1", "size": 22201, "filled": false, "color": "black", "strokeWidth": 2, "opacity": 1}, "encoding": {"x": {"field": "c", "type": "nominal", "bandPosition": 1.3, "axis": null}, "y": {"datum": 0, "type": "quantitative", "axis": null}}},
        {"data": {"values": [{"c": "Raf"}, {"c": "Gal"}]}, "layer": [
          {"mark": {"type": "rule", "color": "black", "strokeWidth": 1.5}, "encoding": {"x": {"field": "c", "type": "nominal", "axis": null}, "y": {"datum": 0, "type": "quantitative", "axis": null}, "y2": {"datum": -0.107}}},
          {"mark": {"type": "text", "fontSize": 12.5, "angle": 315, "align": "right", "baseline": "top"}, "encoding": {"x": {"field": "c", "type": "nominal", "axis": null}, "y": {"datum": -0.133, "type": "quantitative", "axis": null}, "text": {"field": "c"}}}
        ]},
        {"data": {"values": [{"c": "Raf", "v": 0}, {"c": "Raf", "v": 1}, {"c": "Raf", "v": 2}, {"c": "Raf", "v": 3}, {"c": "Raf", "v": 4}]}, "layer": [
          {"mark": {"type": "point", "shape": "M-1,0H1", "size": 25, "filled": false, "color": "black", "strokeWidth": 1.5, "opacity": 1}, "encoding": {"x": {"field": "c", "type": "nominal", "bandPosition": -0.259, "axis": null}, "y": {"field": "v", "type": "quantitative", "axis": null}}},
          {"mark": {"type": "text", "fontSize": 12, "align": "right", "baseline": "middle"}, "encoding": {"x": {"field": "c", "type": "nominal", "bandPosition": -0.33, "axis": null}, "y": {"field": "v", "type": "quantitative", "axis": null}, "text": {"field": "v", "type": "quantitative", "format": "d"}}}
        ]},
        {"data": {"values": [{"c": "Raf"}]}, "mark": {"type": "text", "fontSize": 12.5, "angle": 270, "align": "center", "baseline": "middle"}, "encoding": {"x": {"field": "c", "type": "nominal", "bandPosition": -0.816, "axis": null}, "y": {"datum": 2.16, "type": "quantitative", "axis": null}, "text": {"value": "H3K27Ac ChIP/H3"}}}
      ]
    }
  ]
}
